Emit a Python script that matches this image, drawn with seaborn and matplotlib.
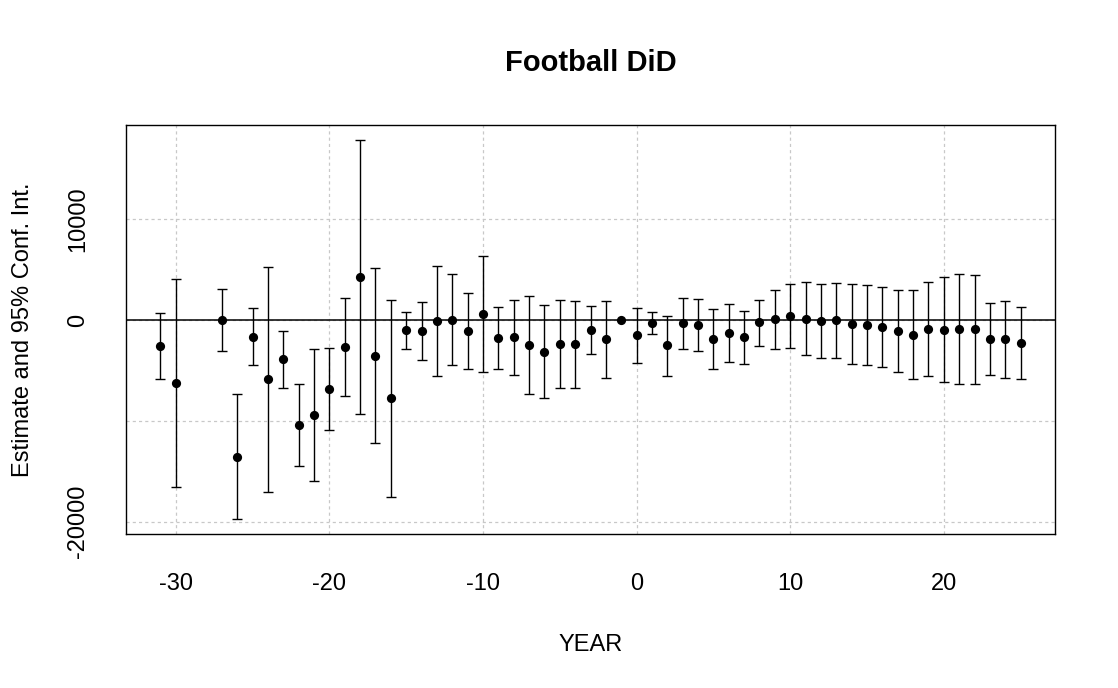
import numpy as np
import pandas as pd
import matplotlib
matplotlib.use("Agg")
import matplotlib.pyplot as plt
import seaborn as sns

# Event-study estimates
years = [-31, -30, -27, -26, -25, -24, -23, -22, -21, -20, -19, -18, -17, -16,
         -15, -14, -13, -12, -11, -10, -9, -8, -7, -6, -5, -4, -3, -2, -1,
         0, 1, 2, 3, 4, 5, 6, 7, 8, 9, 10, 11, 12, 13, 14, 15, 16, 17, 18,
         19, 20, 21, 22, 23, 24, 25]
estimate = [-2580, -6280, 0, -13560, -1650, -5880, -3900, -10380, -9420, -6810,
            -2680, 4300, -3510, -7740,
            -990, -1060, -100, 60, -1060, 600, -1750, -1690, -2510, -3140,
            -2380, -2410, -960, -1880, 0,
            -1520, -260, -2510, -300, -500, -1900, -1260, -1690, -230, 100,
            430, 130, -60, -30, -330, -500, -690, -1090, -1490,
            -860, -930, -860, -890, -1880, -1880, -2250]
ci_low = [-5790, -16570, -3080, -19710, -4460, -17030, -6710, -14480, -15970,
          -10880, -7540, -9290, -12200, -17530,
          -2810, -3920, -5560, -4460, -4830, -5160, -4800, -5390, -7370, -7770,
          -6680, -6680, -3340, -5720, np.nan,
          -4230, -1420, -5520, -2810, -3080, -4890, -4100, -4330, -2580, -2880,
          -2740, -3470, -3740, -3770, -4330, -4460, -4630, -5130, -5880,
          -5490, -6150, -6310, -6350, -5390, -5690, -5790]
ci_high = [720, 4040, 3110, -7340, 1190, 5260, -1060, -6310, -2840, -2740,
           2220, 17860, 5220, 2020,
           830, 1830, 5360, 4600, 2710, 6320, 1320, 2020, 2380, 1520,
           1980, 1880, 1450, 1950, np.nan,
           1190, 830, 430, 2220, 2080, 1080, 1620, 890, 2050, 3040,
           3600, 3740, 3540, 3670, 3570, 3470, 3270, 2980, 3010,
           3770, 4330, 4560, 4530, 1690, 1880, 1260]

df = pd.DataFrame({"YEAR": years, "est": estimate, "lo": ci_low, "hi": ci_high})

sns.set_style("white")
plt.rcParams["font.family"] = ["Liberation Sans", "DejaVu Sans"]
plt.rcParams["text.color"] = "black"
plt.rcParams["axes.labelcolor"] = "black"

fig = plt.figure(figsize=(11.18, 6.88), dpi=100)
ax = fig.add_axes([126 / 1118, 1 - 534 / 688, (1055 - 126) / 1118, (534 - 125) / 688])

# grid and zero line
for gx in [-30, -20, -10, 0, 10, 20]:
    ax.axvline(gx, color="#c8c8c8", lw=0.9, dashes=(2.5, 2.5), zorder=0)
for gy in [-20000, -10000, 0, 10000]:
    ax.axhline(gy, color="#c8c8c8", lw=0.9, dashes=(2.5, 2.5), zorder=0)
ax.axhline(0, color="black", lw=1.1, zorder=1)

# confidence intervals
ci = df.dropna()
ax.errorbar(ci["YEAR"], ci["est"],
            yerr=[ci["est"] - ci["lo"], ci["hi"] - ci["est"]],
            fmt="none", ecolor="black", elinewidth=1.0, capsize=3.4,
            capthick=1.0, zorder=2)

# point estimates
sns.scatterplot(data=df, x="YEAR", y="est", color="black", s=44,
                edgecolor="black", linewidth=0, ax=ax, zorder=3)

ax.set_xlim(-33.24, 27.24)
ax.set_ylim(-21213, 19363)
ax.set_xticks([-30, -20, -10, 0, 10, 20])
ax.set_xticklabels(["-30", "-20", "-10", "0", "10", "20"])
ax.set_yticks([-20000, -10000, 0, 10000])
ax.set_yticklabels(["-20000", "", "0", "10000"], rotation=90, va="center")

ax.tick_params(axis="both", which="major", direction="out", length=10.5,
               width=1.0, color="black", labelsize=17, labelcolor="black")
ax.tick_params(axis="x", pad=17.5)
ax.tick_params(axis="y", pad=16)
for sp in ax.spines.values():
    sp.set_visible(True)
    sp.set_color("black")
    sp.set_linewidth(1.0)

ax.set_xlabel("YEAR", fontsize=17, labelpad=28, color="black")
ax.set_ylabel("Estimate and 95% Conf. Int.", fontsize=17, labelpad=24, color="black")
fig.text((126 + 1055) / 2 / 1118, 1 - 63 / 688, "Football DiD",
         ha="center", va="center", fontsize=21, fontweight="bold", color="black")

fig.savefig("out.png", dpi=100)
